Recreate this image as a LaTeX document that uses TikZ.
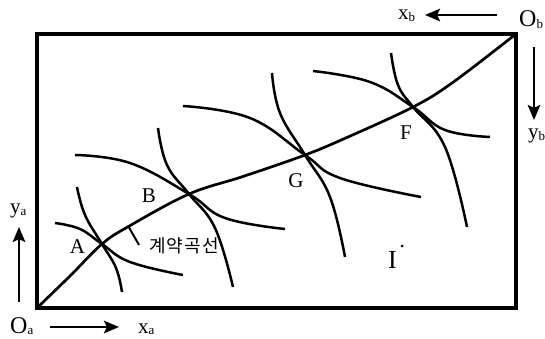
\documentclass[tikz,border=0pt]{standalone}
\usepackage{fontspec}
\setmainfont{Liberation Serif}
\newfontfamily\kofont[LetterSpace=6]{Noto Sans CJK KR}
\usetikzlibrary{arrows.meta}
\newcommand\mysbs[1]{\raisebox{-1.5pt}{\fontsize{13}{13}\selectfont #1}}
\begin{document}
\begin{tikzpicture}[x=1pt,y=-1pt,
  box/.style={line width=3.2pt},
  icurve/.style={line width=2.5pt},
  ccurve/.style={line width=2.7pt},
  axarrow/.style={line width=2.5pt,-{Stealth[length=15pt,width=12.5pt,inset=3pt]}},
  lbl/.style={font=\fontsize{21}{21}\selectfont, inner sep=0pt},
  axlbl/.style={font=\fontsize{21}{21}\selectfont, inner sep=0pt, anchor=base west},
  olbl/.style={font=\fontsize{24}{24}\selectfont, inner sep=0pt, anchor=base west},
  kolbl/.style={font=\kofont\fontsize{18}{18}\selectfont, inner sep=0pt}]
\useasboundingbox (0,0) rectangle (545,339);
% box
\coordinate (oa) at (37,308);
\coordinate (ob) at (516,34);
\draw[box] (oa) rectangle (ob);
% contract curve points
\coordinate (pA) at (102,244);
\coordinate (pB) at (189,194);
\coordinate (pG) at (305,155);
\coordinate (pF) at (413,107);
\coordinate (tk) at (128.5,226.5);
\coordinate (tkend) at (139,245);
\draw[ccurve] plot[smooth,tension=0.6] coordinates {(38,307) (70,276) (pA) (tk) (pB) (243,176.5) (pG) (348,137) (pF) (452,83) (514,35.5)};
\draw[line width=2pt] (tk) -- (tkend);
% indifference curves
\draw[icurve] plot[smooth,tension=0.7] coordinates {(77,187) (85,215) (pA) (116,268) (122,292)};
\draw[icurve] plot[smooth,tension=0.7] coordinates {(55,223) (80,229) (pA) (130,262) (183,275)};
\draw[icurve] plot[smooth,tension=0.7] coordinates {(158,128) (167,165) (pB) (215,228) (233,287)};
\draw[icurve] plot[smooth,tension=0.7] coordinates {(75,155) (130,163) (pB) (225,218) (285,229)};
\draw[icurve] plot[smooth,tension=0.7] coordinates {(272,73) (280,113) (pG) (330,197) (345,257)};
\draw[icurve] plot[smooth,tension=0.7] coordinates {(183,106) (250,118) (pG) (340,178) (421,197)};
\draw[icurve] plot[smooth,tension=0.7] coordinates {(391,53) (398,85) (pF) (445,147) (467,227)};
\draw[icurve] plot[smooth,tension=0.7] coordinates {(313,71) (370,82) (pF) (445,130) (490,137)};
% point labels
\node[lbl] (lA) at (77.5,246.5) {A};
\node[lbl] (lB) at (149,195.5) {B};
\node[lbl] (lG) at (296,180.5) {G};
\node[lbl] (lF) at (406,132.5) {F};
\node[lbl, font=\fontsize{26}{26}\selectfont] (lI) at (392.5,260) {I};
\fill (402,246) circle (1.5pt);
\node[kolbl] (lk) at (184,245.5) {계약곡선};
% origins and axes
\node[olbl] (Oa) at (10,333) {O\mysbs{a}};
\node[olbl] (Ob) at (519,26.7) {O\mysbs{b}};
\node[axlbl] (xa) at (138,333) {x\mysbs{a}};
\node[axlbl] (ya) at (10,213.5) {y\mysbs{a}};
\node[axlbl] (xb) at (398,20) {x\mysbs{b}};
\node[axlbl] (yb) at (528,139) {y\mysbs{b}};
\coordinate (xas) at (50,327);  \coordinate (xae) at (119,327);
\coordinate (yas) at (19,302);  \coordinate (yae) at (19,227);
\coordinate (xbs) at (497,15);  \coordinate (xbe) at (425,15);
\coordinate (ybs) at (534,47);  \coordinate (ybe) at (534,120);
\draw[axarrow] (xas) -- (xae);
\draw[axarrow] (yas) -- (yae);
\draw[axarrow] (xbs) -- (xbe);
\draw[axarrow] (ybs) -- (ybe);
\end{tikzpicture}
\end{document}
